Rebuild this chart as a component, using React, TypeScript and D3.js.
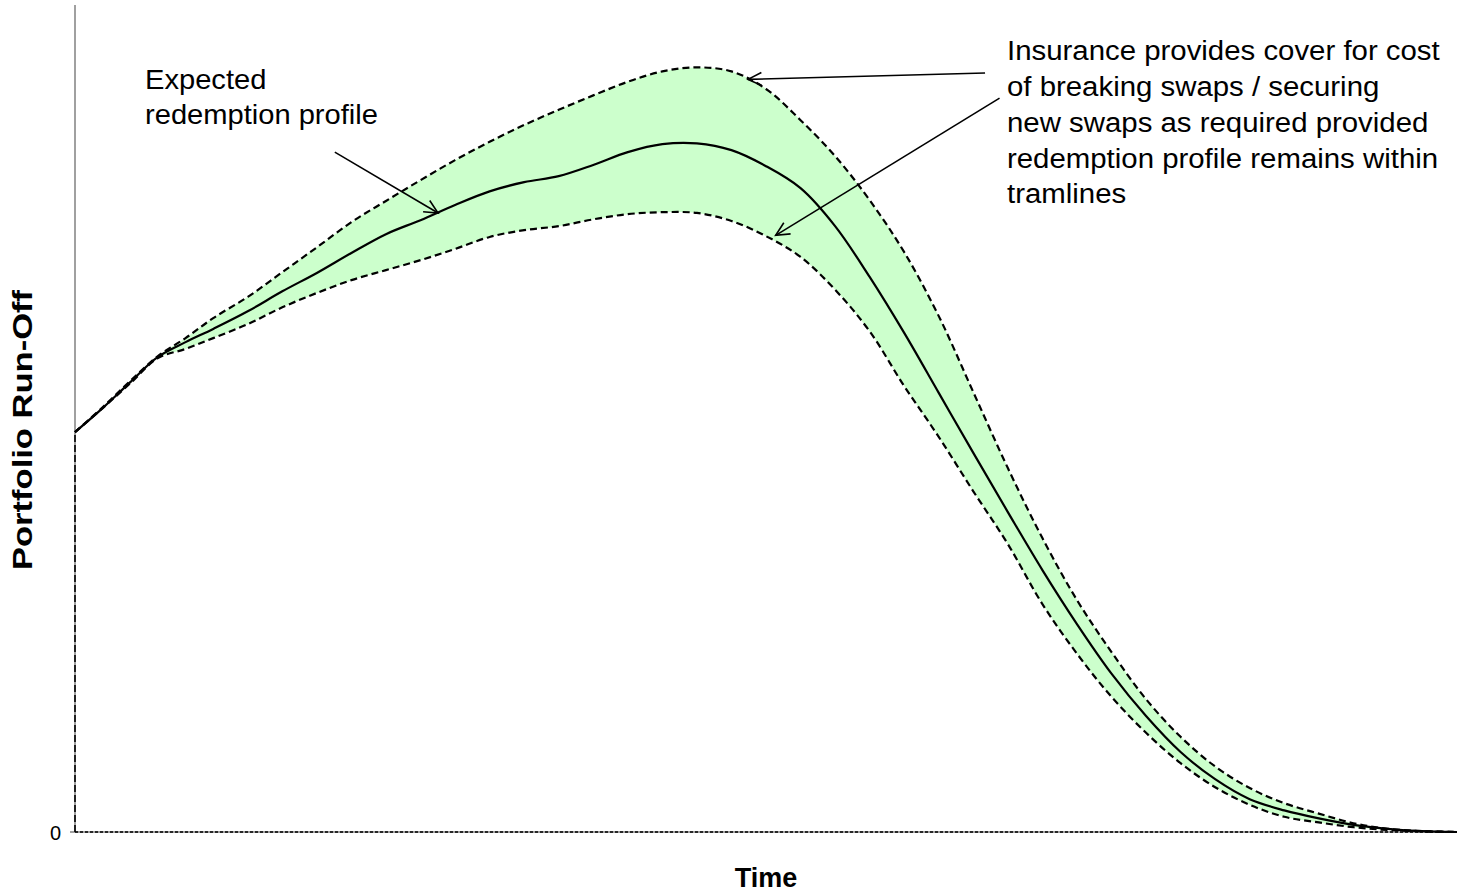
import React from 'react';
import * as d3 from 'd3';

const TIME = [0, 2, 4, 6, 8, 10, 12.5, 15, 17.5, 20, 22.5, 25, 27.5, 30, 32.5, 35, 37.5, 40, 42.5, 45, 47.5, 50, 52.5, 55, 57.5, 60, 62.5, 65, 67.5, 70, 72.5, 75, 77.5, 80, 82.5, 85, 87.5, 90, 92.5, 95, 97.5, 100];
const EXPECTED = [50, 53, 56.25, 59.4, 61.25, 62.9, 65.1, 67.6, 69.9, 72.4, 74.75, 76.5, 78.4, 80.1, 81.25, 82, 83.4, 85, 86, 86.1, 85.25, 83.25, 80.5, 75.75, 69.4, 62.4, 54.9, 47.4, 40.0, 32.75, 26.0, 19.8, 14.5, 10, 6.6, 4.1, 2.7, 1.7, 0.9, 0.4, 0.1, 0];
const UPPER = [50, 53.1, 56.4, 59.5, 61.75, 64.25, 66.9, 70, 73.1, 76.25, 78.9, 81.5, 84.0, 86.3, 88.4, 90.3, 92.1, 93.8, 95.1, 95.6, 95.1, 92.9, 89, 84.5, 79, 72.5, 64.5, 55, 45.5, 36.75, 29, 22.5, 16.6, 11.9, 8.2, 5.5, 3.6, 2.3, 1.1, 0.4, 0.1, 0];
const LOWER = [50, 53, 56.1, 59.25, 60.4, 61.75, 63.5, 65.6, 67.4, 69, 70.25, 71.5, 72.9, 74.4, 75.25, 75.75, 76.6, 77.25, 77.5, 77.4, 76.4, 74.5, 71.9, 67.8, 62.6, 55.75, 49.4, 42.6, 36, 28.5, 22.3, 16.9, 12.4, 8.6, 5.6, 3.4, 1.9, 1.2, 0.6, 0.25, 0.1, 0];

const Y_TICKS = [0];
const LEFT_NOTE = ['Expected', 'redemption profile'];
const RIGHT_NOTE = [
  'Insurance provides cover for cost',
  'of breaking swaps / securing',
  'new swaps as required provided',
  'redemption profile remains within',
  'tramlines',
];
// arrows: [tailTime, tailValue, tipTime, tipValue]
const ARROWS = [
  [18.8, 85, 26.27, 77.4],
  [65.85, 94.9, 48.7, 94.1],
  [66.9, 91.75, 50.7, 74.6],
];

const FONT = '"Liberation Sans", Arial, Helvetica, sans-serif';

export default function App() {
  const W = 1457, H = 893;
  const x = d3.scaleLinear().domain([0, 100]).range([75, 1457]);
  const y = d3.scaleLinear().domain([0, 103.4]).range([832, 5]);
  const curve = d3.curveCatmullRom.alpha(0.5);
  const idx = TIME.map((_, i) => i);

  const area = d3.area<number>()
    .x(i => x(TIME[i]))
    .y0(i => y(LOWER[i]))
    .y1(i => y(UPPER[i]))
    .curve(curve);
  const lineOf = (arr: number[]) => d3.line<number>()
    .x(i => x(TIME[i]))
    .y(i => y(arr[i]))
    .curve(curve)(idx) as string;

  const arrowEls = ARROWS.map((a, k) => {
    const x1 = x(a[0]), y1 = y(a[1]), x2 = x(a[2]), y2 = y(a[3]);
    const ang = Math.atan2(y2 - y1, x2 - x1);
    const L = 15, spread = Math.PI / 7;
    const h1 = [x2 - L * Math.cos(ang - spread), y2 - L * Math.sin(ang - spread)];
    const h2 = [x2 - L * Math.cos(ang + spread), y2 - L * Math.sin(ang + spread)];
    return (
      <g key={k} stroke="#000" strokeWidth={1.6} fill="none">
        <line x1={x1} y1={y1} x2={x2} y2={y2} />
        <polyline points={`${h1[0]},${h1[1]} ${x2},${y2} ${h2[0]},${h2[1]}`} />
      </g>
    );
  });

  return (
    <svg width={W} height={H} style={{ position: 'absolute', left: 0, top: 0, background: '#fff' }} fontFamily={FONT}>
      {/* axes */}
      <line x1={x(0)} x2={x(0)} y1={y(103.4)} y2={y(0)} stroke="#808080" strokeWidth={1.5} />
      <line x1={x(0) - 5} x2={x(100)} y1={y(0)} y2={y(0)} stroke="#808080" strokeWidth={1.5} />
      {Y_TICKS.map(t => (
        <text key={t} x={x(0) - 14} y={y(t) + 8} fontSize={20} textAnchor="end" fill="#000">{t}</text>
      ))}
      {/* band */}
      <path d={area(idx) as string} fill="#ccffcc" stroke="none" />
      {/* zero dashed series line and initial rise */}
      <line x1={x(0)} x2={x(100)} y1={y(0)} y2={y(0)} stroke="#000" strokeWidth={1.6} strokeDasharray="3,2" />
      <line x1={x(0)} x2={x(0)} y1={y(0)} y2={y(EXPECTED[0])} stroke="#000" strokeWidth={1.6} strokeDasharray="7,3" />
      <path d={lineOf(UPPER)} fill="none" stroke="#000" strokeWidth={2.2} strokeDasharray="7,4" />
      <path d={lineOf(LOWER)} fill="none" stroke="#000" strokeWidth={2.2} strokeDasharray="7,4" />
      <path d={lineOf(EXPECTED)} fill="none" stroke="#000" strokeWidth={2.2} />
      {arrowEls}
      {/* notes */}
      <g transform="translate(145,0) scale(1.04,1)">
        {LEFT_NOTE.map((s, i) => (
          <text key={i} x={0} y={89 + i * 35} fontSize={28} fill="#000">{s}</text>
        ))}
      </g>
      <g transform="translate(1007,0) scale(1.05,1)">
        {RIGHT_NOTE.map((s, i) => (
          <text key={i} x={0} y={60.5 + i * 35.7} fontSize={28} fill="#000">{s}</text>
        ))}
      </g>
      {/* axis titles */}
      <text x={(x(0) + x(100)) / 2} y={887} fontSize={27} fontWeight="bold" textAnchor="middle" fill="#000">Time</text>
      <text transform="translate(32,430) rotate(-90)" x={0} y={0} fontSize={28} fontWeight="bold" textAnchor="middle" fill="#000" textLength={280} lengthAdjust="spacingAndGlyphs">Portfolio Run-Off</text>
    </svg>
  );
}
